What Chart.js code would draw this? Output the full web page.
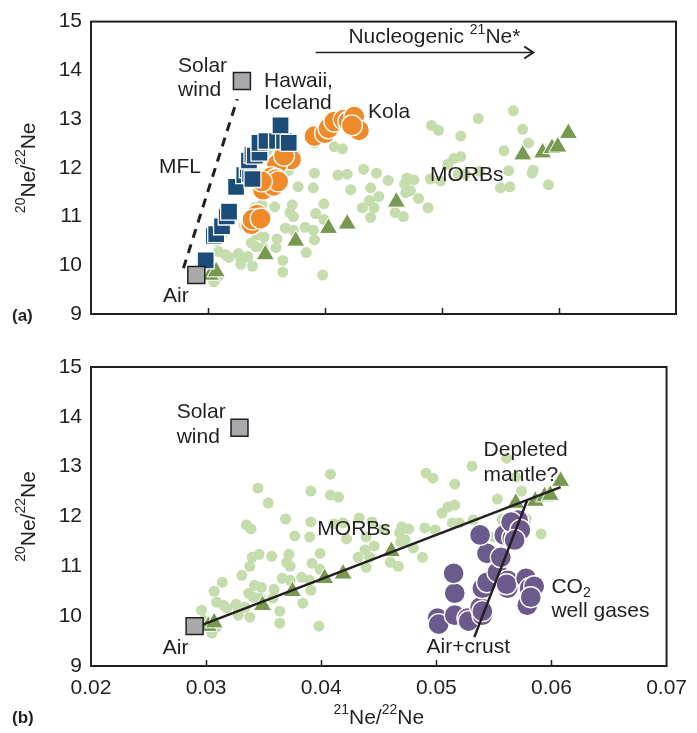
<!DOCTYPE html>
<html lang="en">
<head>
<meta charset="UTF-8">
<title>Neon isotopes</title>
<script src="https://cdn.jsdelivr.net/npm/chart.js"></script>
<style>
  body { margin: 0; background: #fff; }
  #wrap { position: relative; width: 697px; height: 733px; }
  #wrap canvas { position: absolute; left: 0; }
</style>
</head>
<body>
<div id="wrap">
  <canvas id="chartA" width="697" height="340" style="top:0;width:697px;height:340px"></canvas>
  <canvas id="chartB" width="697" height="393" style="top:340px;width:697px;height:393px"></canvas>
</div>
<script>
// axis ticks
const xTicks = [0.02, 0.03, 0.04, 0.05, 0.06, 0.07];
const yTicks = [9, 10, 11, 12, 13, 14, 15];

// end members
const air = [[0.029, 9.8]];
const solarWind = [[0.0329, 13.78]];

// Hawaii, Iceland (squares)
const hawaiiIceland = [
  [0.0298, 10.10], [0.0305, 10.60], [0.0307, 10.64], [0.0312, 10.80], [0.0316, 11.00],
  [0.0318, 11.10], [0.0324, 11.61], [0.0331, 11.85], [0.0334, 11.97], [0.0336, 11.87],
  [0.0338, 11.77], [0.0335, 12.15], [0.0338, 12.27], [0.0340, 12.25], [0.0344, 12.31],
  [0.0344, 12.51], [0.0350, 12.55], [0.0359, 12.55], [0.0365, 12.55], [0.0369, 12.51],
  [0.0362, 12.87]
];

// Kola (orange circles)
const kola = [
  [0.0391, 12.65], [0.0400, 12.71], [0.0403, 12.81], [0.0408, 12.95], [0.0416, 12.99],
  [0.0420, 12.95], [0.0425, 13.05], [0.0429, 12.77], [0.0423, 12.87],
  [0.0362, 12.17], [0.0371, 12.17], [0.0359, 12.07], [0.0365, 12.25], [0.0354, 11.81],
  [0.0358, 11.77], [0.0350, 11.65], [0.0347, 11.55], [0.0356, 11.63], [0.0360, 11.72],
  [0.0346, 11.72], [0.0342, 11.04], [0.0337, 10.84], [0.0338, 10.94], [0.0345, 10.96]
];

// MORBs (small dots)
const morbs = [
  [0.0345, 12.57], [0.0354, 12.27], [0.0391, 12.51], [0.0408, 12.85], [0.0408, 12.43], [0.0415, 12.39],
  [0.0335, 11.83], [0.0339, 11.75], [0.0369, 11.95], [0.0391, 11.89], [0.0377, 11.61], [0.0390, 11.59],
  [0.0340, 11.18], [0.0346, 11.24], [0.0357, 11.20], [0.0372, 11.24], [0.0370, 11.08], [0.0373, 11.00],
  [0.0338, 11.00], [0.0399, 11.26], [0.0392, 11.06], [0.0399, 10.94], [0.0331, 10.82], [0.0314, 10.68],
  [0.0307, 10.50], [0.0309, 10.28], [0.0342, 10.62], [0.0348, 10.58], [0.0366, 10.76], [0.0373, 10.72],
  [0.0383, 10.78], [0.0390, 10.72], [0.0391, 10.52], [0.0359, 10.54], [0.0337, 10.46], [0.0341, 10.38],
  [0.0347, 10.36], [0.0358, 10.36], [0.0315, 10.22], [0.0318, 10.16], [0.0326, 10.24], [0.0328, 10.12],
  [0.0334, 10.18], [0.0338, 9.98], [0.0328, 10.02], [0.0296, 10.12], [0.0364, 10.10], [0.0384, 10.26],
  [0.0364, 9.86], [0.0398, 9.80], [0.0305, 9.66], [0.0298, 9.92], [0.0309, 9.78],
  [0.0491, 12.87], [0.0497, 12.77], [0.0516, 12.65], [0.0505, 12.07], [0.0510, 12.19], [0.0516, 12.23],
  [0.0514, 11.87], [0.0520, 11.87], [0.0433, 11.97], [0.0470, 11.79], [0.0476, 11.75], [0.0490, 11.77],
  [0.0499, 11.73], [0.0468, 11.67], [0.0422, 11.55], [0.0439, 11.59], [0.0446, 11.41], [0.0438, 11.33],
  [0.0432, 11.18], [0.0442, 11.18], [0.0439, 10.98], [0.0469, 11.49], [0.0473, 11.53], [0.0480, 11.37],
  [0.0488, 11.18], [0.0460, 11.08], [0.0467, 11.00],
  [0.0531, 13.01], [0.0561, 13.17], [0.0553, 12.35], [0.0574, 12.51], [0.0532, 11.93], [0.0591, 11.65],
  [0.0578, 11.95], [0.0569, 12.79], [0.0557, 11.94], [0.0550, 11.59], [0.0558, 11.61], [0.0577, 11.89],
  [0.0411, 11.85], [0.0419, 11.87], [0.0444, 11.89], [0.0454, 11.74]
];

// MORBs (triangles)
const morbTriangles = [
  [0.0302, 9.80], [0.0307, 9.87], [0.0349, 10.22], [0.0375, 10.50], [0.0403, 10.76],
  [0.0419, 10.85], [0.0461, 11.30], [0.0569, 12.27], [0.0586, 12.31], [0.0594, 12.40],
  [0.0599, 12.43], [0.0608, 12.71]
];

// CO2 well gases (purple circles)
const co2Gases = [
  [0.0501, 9.96], [0.0502, 9.84], [0.0516, 10.02], [0.0527, 9.96], [0.0528, 9.90],
  [0.0540, 10.02], [0.0538, 10.18], [0.0540, 10.10], [0.0516, 10.46], [0.0515, 10.86],
  [0.0540, 10.56], [0.0544, 10.68], [0.0553, 10.88], [0.0562, 10.72], [0.0562, 10.56],
  [0.0561, 10.64], [0.0578, 10.76], [0.0581, 10.56], [0.0585, 10.60], [0.0579, 10.22],
  [0.0582, 10.38], [0.0544, 11.26], [0.0556, 11.18], [0.0538, 11.63], [0.0559, 11.63],
  [0.0566, 11.57], [0.0568, 11.79], [0.0571, 11.93], [0.0565, 11.89], [0.0573, 11.73],
  [0.0568, 11.53]
];

// lines
const mflLine = [[0.0279, 9.94], [0.0325, 13.41]];
const airMantleLine = [[0.0296, 9.82], [0.0608, 12.59]];
const airCrustLine = [[0.0533, 9.58], [0.0579, 12.33]];

const FONT = '"Liberation Sans", Arial, Helvetica, sans-serif';
const INK = '#231f20';
const pts = arr => arr.map(p => ({ x: p[0], y: p[1] }));

function drawRich(ctx, parts, x, y, size, align) {
  const small = Math.round(size * 0.66);
  let w = 0;
  parts.forEach(p => { ctx.font = (p[1] ? small : size) + 'px ' + FONT; w += ctx.measureText(p[0]).width; });
  let cx = align === 'center' ? x - w / 2 : x;
  ctx.textBaseline = 'middle';
  ctx.textAlign = 'left';
  parts.forEach(p => {
    ctx.font = (p[1] ? small : size) + 'px ' + FONT;
    const dy = p[1] === 'sup' ? -size * 0.36 : p[1] === 'sub' ? size * 0.3 : 0;
    ctx.fillText(p[0], cx, y + dy);
    cx += ctx.measureText(p[0]).width;
  });
}

const yTitle = [['20', 'sup'], ['Ne/'], ['22', 'sup'], ['Ne']];
const xTitle = [['21', 'sup'], ['Ne/'], ['22', 'sup'], ['Ne']];

function decor(cfg) {
  return {
    id: 'decor',
    afterDatasetsDraw(chart) {
      const { ctx, chartArea: a, scales: { x, y } } = chart;
      ctx.save();
      ctx.fillStyle = INK;
      ctx.strokeStyle = INK;
      // inward ticks
      ctx.lineWidth = 1.5;
      xTicks.slice(1, -1).forEach(v => {
        const px = Math.round(x.getPixelForValue(v)) + 0.5;
        ctx.beginPath(); ctx.moveTo(px, a.bottom); ctx.lineTo(px, a.bottom - 6); ctx.stroke();
      });
      // frame
      ctx.lineWidth = 2;
      ctx.strokeRect(a.left, a.top, a.right - a.left, a.bottom - a.top);
      // labels
      cfg.labels.forEach(l => {
        drawRich(ctx, l.parts, x.getPixelForValue(l.x), y.getPixelForValue(l.y), 21, 'left');
      });
      // arrow
      if (cfg.arrow) {
        const x0 = x.getPixelForValue(cfg.arrow[0]), x1 = x.getPixelForValue(cfg.arrow[1]);
        const yy = Math.round(y.getPixelForValue(cfg.arrow[2])) + 0.5;
        ctx.lineWidth = 1.5;
        ctx.beginPath(); ctx.moveTo(x0, yy); ctx.lineTo(x1, yy); ctx.stroke();
        ctx.lineWidth = 2;
        ctx.beginPath(); ctx.moveTo(x1 - 9, yy - 6); ctx.lineTo(x1, yy); ctx.lineTo(x1 - 9, yy + 6); ctx.stroke();
      }
      // y title
      ctx.save();
      ctx.translate(29, (a.top + a.bottom) / 2);
      ctx.rotate(-Math.PI / 2);
      drawRich(ctx, yTitle, 0, 0, 21, 'center');
      ctx.restore();
      // x title
      if (cfg.xTitle) drawRich(ctx, xTitle, (a.left + a.right) / 2, cfg.xTitle, 21, 'center');
      // panel tag
      ctx.font = 'bold 17px ' + FONT;
      ctx.textBaseline = 'middle';
      ctx.textAlign = 'left';
      ctx.fillText(cfg.tag[0], 12, cfg.tag[1]);
      ctx.restore();
    }
  };
}

const grayStyle = {
  pointStyle: 'rect', pointRadius: 12, pointHoverRadius: 12,
  backgroundColor: '#a7a9ac', borderColor: INK, borderWidth: 1.5
};
const squareStyle = {
  pointStyle: 'rect', pointRadius: 12, pointHoverRadius: 12,
  backgroundColor: '#1c4d78', borderColor: '#ffffff', borderWidth: 1.3
};
const circleStyle = color => ({
  pointStyle: 'circle', pointRadius: 10.5, pointHoverRadius: 10.5,
  backgroundColor: color, borderColor: '#ffffff', borderWidth: 1.3
});
const triStyle = {
  pointStyle: 'triangle', pointRadius: 10.5, pointHoverRadius: 10.5,
  backgroundColor: '#789a50', borderColor: '#ffffff', borderWidth: 1
};
const dotStyle = {
  pointStyle: 'circle', pointRadius: 5.5, pointHoverRadius: 5.5,
  backgroundColor: '#c5dcac', borderWidth: 0
};
const lineStyle = (dash, w) => ({
  showLine: true, pointRadius: 0, borderColor: INK, borderWidth: w, borderDash: dash, fill: false
});

function options(xHeight, padTop, showX) {
  return {
    responsive: false,
    animation: false,
    devicePixelRatio: 1,
    layout: { autoPadding: false, padding: { top: padTop, right: 21, bottom: 0, left: 0 } },
    plugins: { legend: { display: false }, tooltip: { enabled: false } },
    scales: {
      x: {
        type: 'linear', min: 0.02, max: 0.07,
        grid: { display: false, drawTicks: false }, border: { display: false },
        ticks: {
          display: showX, stepSize: 0.01, padding: 10, color: INK,
          font: { family: FONT, size: 21 },
          callback: v => v.toFixed(2)
        },
        afterFit: s => { s.height = xHeight; }
      },
      y: {
        type: 'linear', min: 9, max: 15,
        grid: { display: false, drawTicks: false }, border: { display: false },
        ticks: { stepSize: 1, padding: 9, color: INK, font: { family: FONT, size: 21 } },
        afterFit: s => { s.width = 91; }
      }
    }
  };
}

new Chart(document.getElementById('chartA'), {
  type: 'scatter',
  data: {
    datasets: [
      { data: pts(air), ...grayStyle },
      { data: pts(solarWind), ...grayStyle },
      { data: pts(hawaiiIceland), ...squareStyle },
      { data: pts(kola), ...circleStyle('#f08a28') },
      { data: pts(morbTriangles), ...triStyle },
      { data: pts(morbs), ...dotStyle },
      { data: pts(mflLine), ...lineStyle([9, 7], 3) }
    ]
  },
  options: options(26, 16, false),
  plugins: [decor({
    tag: ['(a)', 316],
    arrow: [0.0392, 0.0578, 14.38],
    labels: [
      { x: 0.0420, y: 14.67, parts: [['Nucleogenic '], ['21', 'sup'], ['Ne*']] },
      { x: 0.02744, y: 14.08, parts: [['Solar']] },
      { x: 0.02744, y: 13.59, parts: [['wind']] },
      { x: 0.03479, y: 13.78, parts: [['Hawaii,']] },
      { x: 0.03479, y: 13.33, parts: [['Iceland']] },
      { x: 0.04368, y: 13.15, parts: [['Kola']] },
      { x: 0.02581, y: 12.01, parts: [['MFL']] },
      { x: 0.04897, y: 11.85, parts: [['MORBs']] },
      { x: 0.02615, y: 9.36, parts: [['Air']] }
    ]
  })]
});

new Chart(document.getElementById('chartB'), {
  type: 'scatter',
  data: {
    datasets: [
      { data: pts(air), ...grayStyle },
      { data: pts(solarWind), ...grayStyle },
      { data: pts(airMantleLine), ...lineStyle([], 2.5) },
      { data: pts(airCrustLine), ...lineStyle([], 2.5) },
      { data: pts(co2Gases), ...circleStyle('#6b5b8d') },
      { data: pts(morbTriangles), ...triStyle },
      { data: pts(morbs), ...dotStyle }
    ]
  },
  options: options(67, 27, true),
  plugins: [decor({
    tag: ['(b)', 378],
    xTitle: 378,
    labels: [
      { x: 0.02744, y: 14.10, parts: [['Solar']] },
      { x: 0.02744, y: 13.59, parts: [['wind']] },
      { x: 0.03966, y: 11.75, parts: [['MORBs']] },
      { x: 0.05410, y: 13.33, parts: [['Depleted']] },
      { x: 0.05410, y: 12.83, parts: [['mantle?']] },
      { x: 0.06000, y: 10.58, parts: [['CO'], ['2', 'sub']] },
      { x: 0.06000, y: 10.10, parts: [['well gases']] },
      { x: 0.04915, y: 9.38, parts: [['Air+crust']] },
      { x: 0.02624, y: 9.36, parts: [['Air']] }
    ]
  })]
});
</script>
</body>
</html>
